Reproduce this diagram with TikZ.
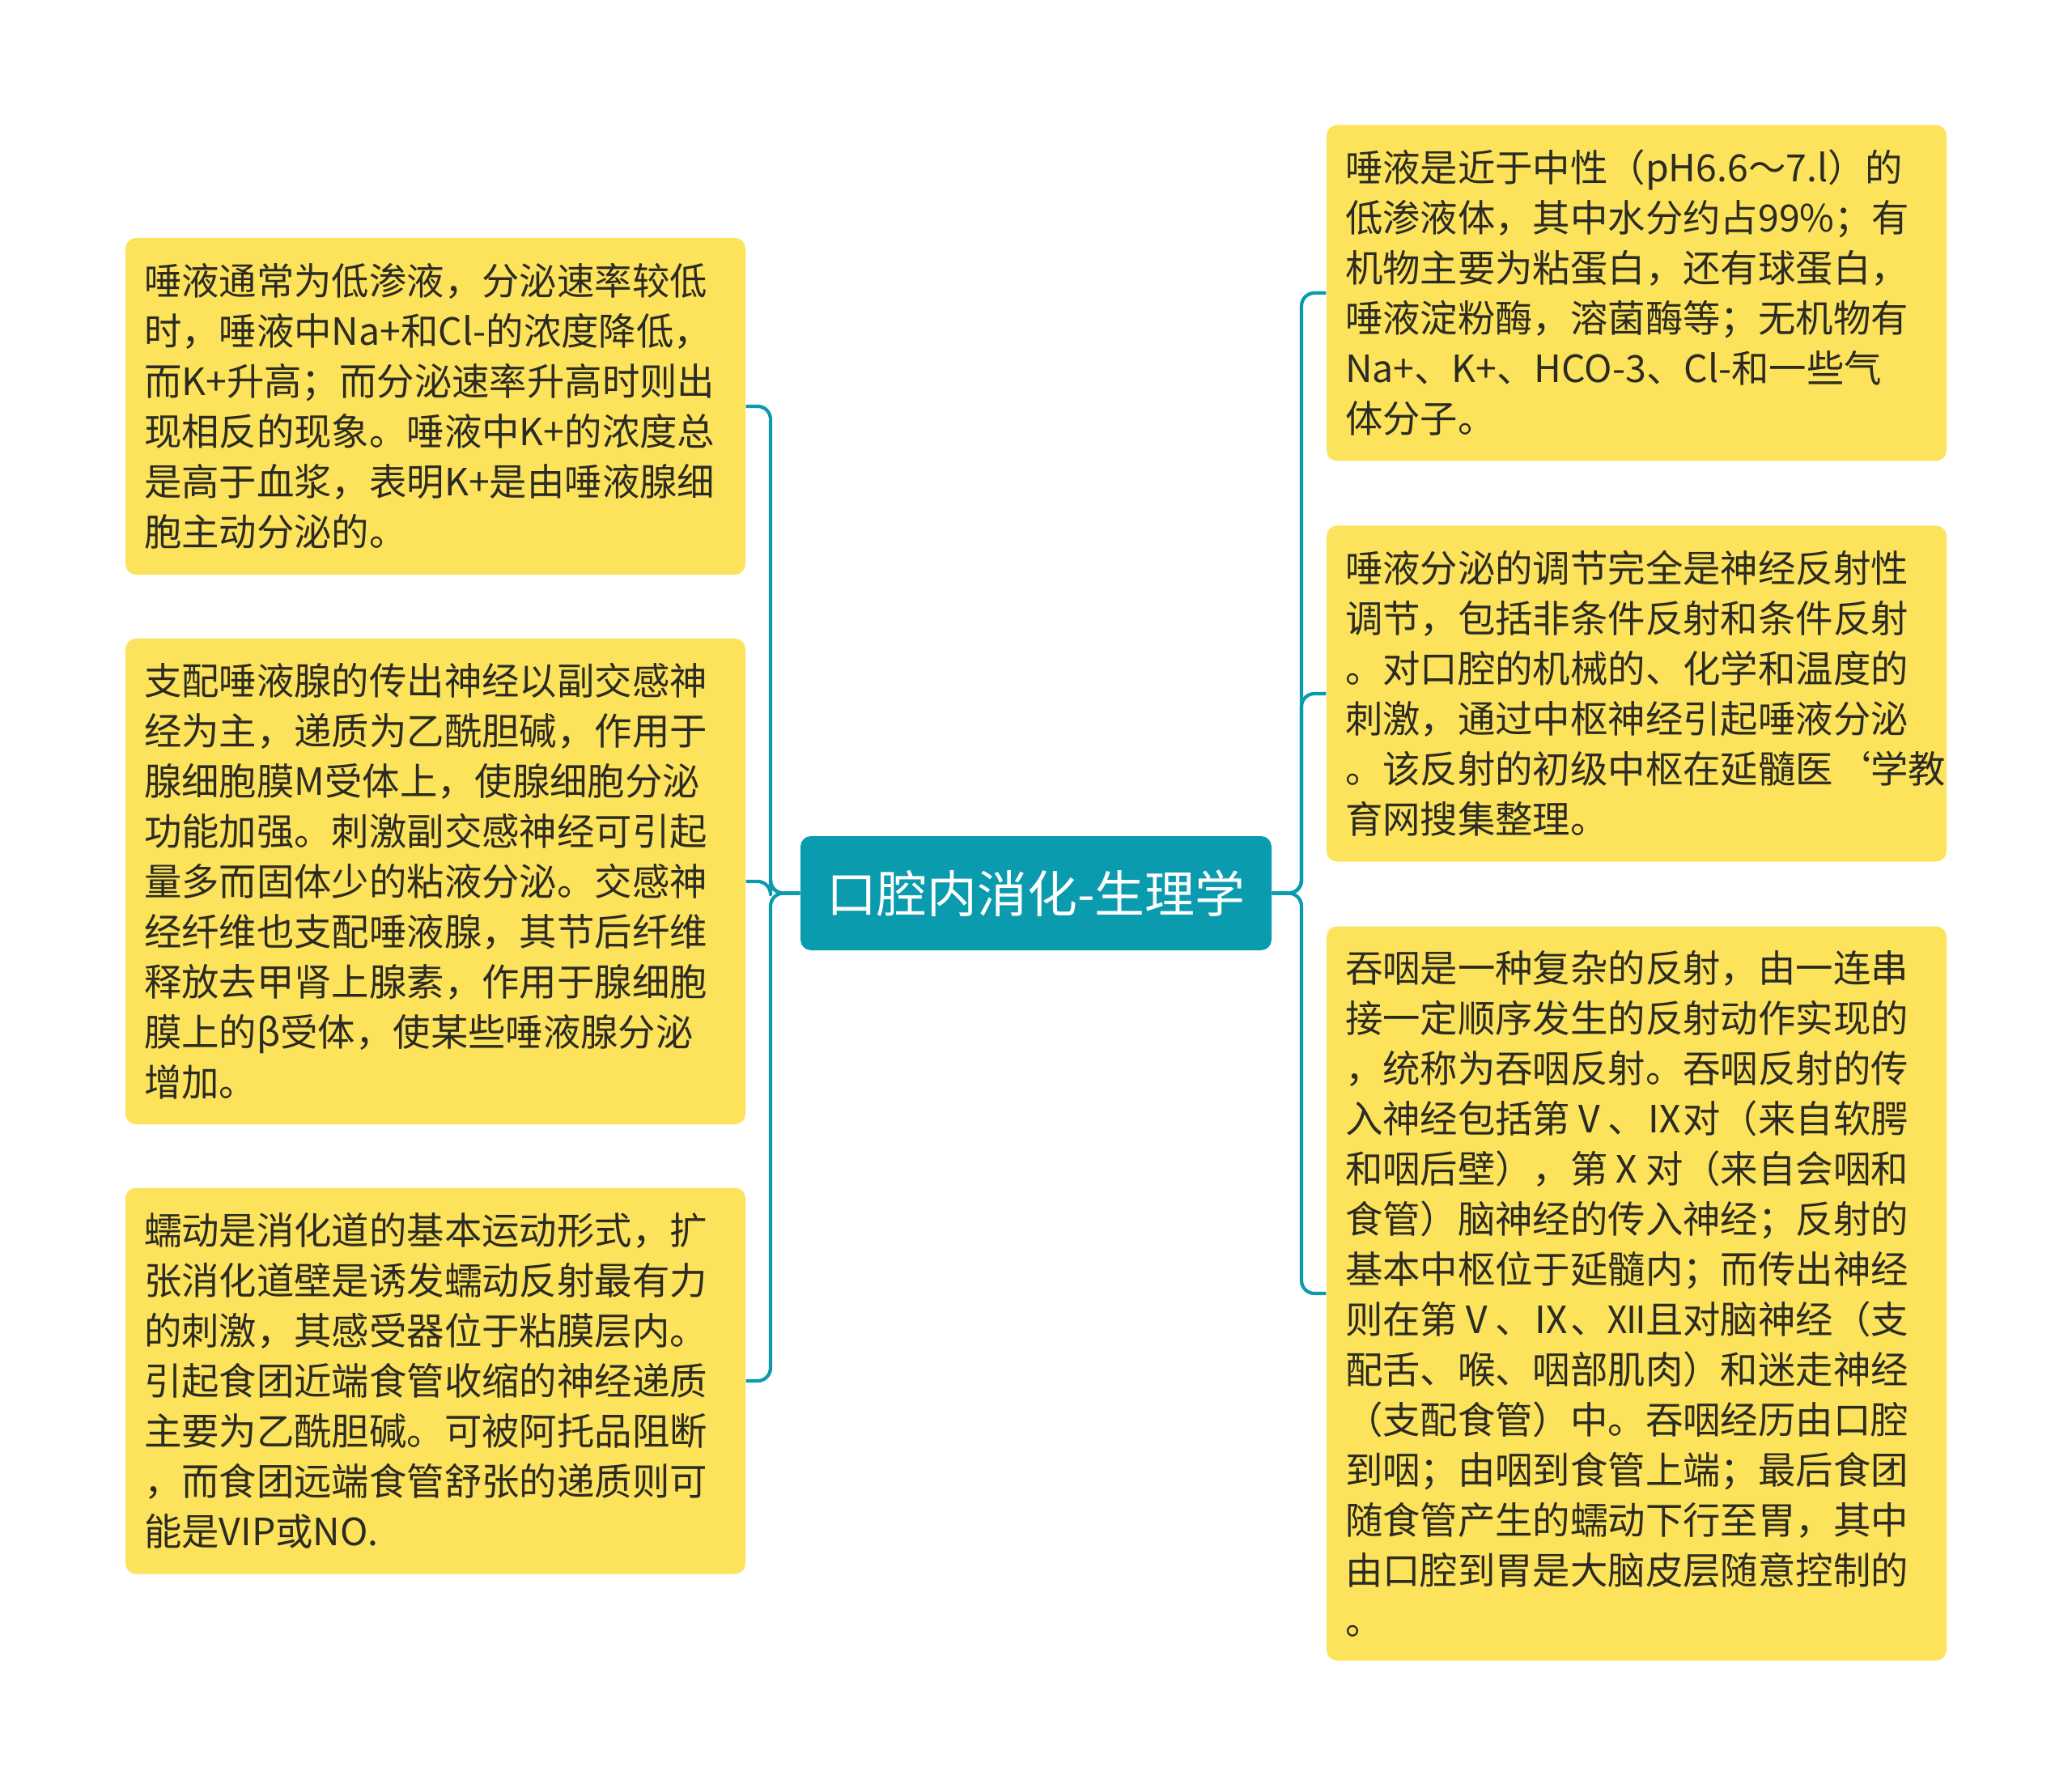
\documentclass[tikz,border=0pt]{standalone}
\usepackage{fontspec}
\setmainfont{Noto Sans CJK SC}
\definecolor{leafyellow}{HTML}{FDE35B}
\definecolor{topicteal}{HTML}{0A9BAE}
\definecolor{inktext}{HTML}{2B2B22}
\begin{document}
\begin{tikzpicture}[line join=round]
	\tikzstyle{topic}=[rectangle,rounded corners=0.13cm,fill=topicteal,text=white,minimum width=5.82cm,minimum height=1.41cm,inner sep=0pt,font=\fontsize{17.6pt}{21pt}\selectfont]
	\tikzstyle{leaf}=[rectangle,rounded corners=0.13cm,fill=leafyellow,text=inktext,text width=7.2cm,inner xsep=0.23cm,inner ysep=0pt,align=left,font=\fontsize{13.2pt}{17.64pt}\selectfont]
	\tikzstyle{link}=[draw=topicteal,line width=1.2pt,rounded corners=0.16cm]
	\useasboundingbox (0,0) rectangle (25.6,-22.09);
	\begin{scope}

	  \node [topic] (c) at (12.80,-11.035) {口腔内消化-生理学};

	  \node [leaf,minimum height=4.16cm] (l1) at (5.38,-5.02) {唾液通常为低渗液，分泌速率较低\\时，唾液中Na+和Cl-的浓度降低，\\而K+升高；而分泌速率升高时则出\\现相反的现象。唾液中K+的浓度总\\是高于血浆，表明K+是由唾液腺细\\胞主动分泌的。};
	  \node [leaf,minimum height=6.00cm] (l2) at (5.38,-10.89) {支配唾液腺的传出神经以副交感神\\经为主，递质为乙酰胆碱，作用于\\腺细胞膜M受体上，使腺细胞分泌\\功能加强。刺激副交感神经可引起\\量多而固体少的粘液分泌。交感神\\经纤维也支配唾液腺，其节后纤维\\释放去甲肾上腺素，作用于腺细胞\\膜上的β受体，使某些唾液腺分泌\\增加。};
	  \node [leaf,minimum height=4.77cm] (l3) at (5.38,-17.06) {蠕动是消化道的基本运动形式，扩\\张消化道壁是诱发蠕动反射最有力\\的刺激，其感受器位于粘膜层内。\\引起食团近端食管收缩的神经递质\\主要为乙酰胆碱。可被阿托品阻断\\，而食团远端食管舒张的递质则可\\能是VIP或NO.};

	  \node [leaf,minimum height=4.15cm] (r1) at (20.22,-3.62) {唾液是近于中性（pH6.6～7.l）的\\低渗液体，其中水分约占99\%；有\\机物主要为粘蛋白，还有球蛋白，\\唾液淀粉酶，溶菌酶等；无机物有\\Na+、K+、HCO-3、Cl-和一些气\\体分子。};
	  \node [leaf,minimum height=4.15cm] (r2) at (20.22,-8.57) {唾液分泌的调节完全是神经反射性\\调节，包括非条件反射和条件反射\\。对口腔的机械的、化学和温度的\\刺激，通过中枢神经引起唾液分泌\\。该反射的初级中枢在延髓医\char"60 学教\\育网搜集整理。};
	  \node [leaf,minimum height=9.07cm] (r3) at (20.22,-15.98) {吞咽是一种复杂的反射，由一连串\\接一定顺序发生的反射动作实现的\\，统称为吞咽反射。吞咽反射的传\\入神经包括第Ⅴ、Ⅸ对（来自软腭\\和咽后壁），第Ⅹ对（来自会咽和\\食管）脑神经的传入神经；反射的\\基本中枢位于延髓内；而传出神经\\则在第Ⅴ、Ⅸ、Ⅻ且对脑神经（支\\配舌、喉、咽部肌肉）和迷走神经\\（支配食管）中。吞咽经历由口腔\\到咽；由咽到食管上端；最后食团\\随食管产生的蠕动下行至胃，其中\\由口腔到胃是大脑皮层随意控制的\\。};

	  \coordinate (lbus) at (9.52,0);
	  \coordinate (rbus) at (16.08,0);

	  \draw[link] (c.west) -- (c.west -| lbus) |- (l1.east);
	  \draw[link] (c.west) -- (c.west -| lbus) |- (l2.east);
	  \draw[link] (c.west) -- (c.west -| lbus) |- (l3.east);
	  \draw[link] (c.east) -- (c.east -| rbus) |- (r1.west);
	  \draw[link] (c.east) -- (c.east -| rbus) |- (r2.west);
	  \draw[link] (c.east) -- (c.east -| rbus) |- (r3.west);

	\end{scope}
\end{tikzpicture}
\end{document}
